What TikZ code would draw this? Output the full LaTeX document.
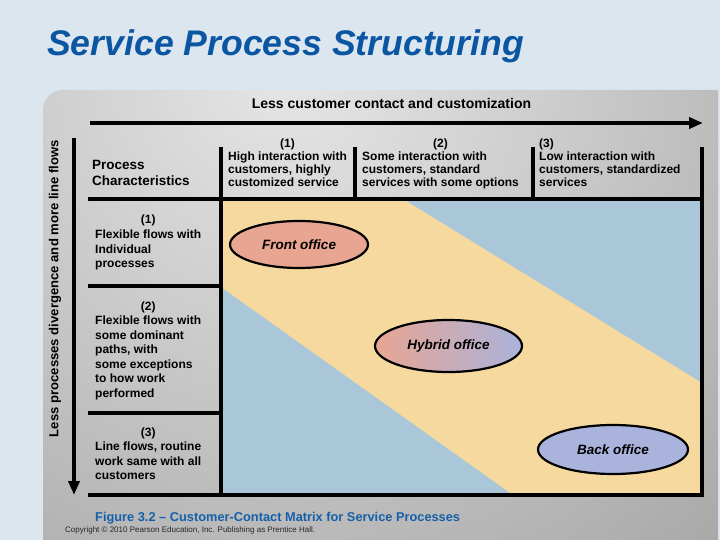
\documentclass[tikz,border=0pt]{standalone}
\usepackage{fontspec}
\setmainfont{Liberation Sans}
\usetikzlibrary{arrows.meta,shapes.geometric}
\definecolor{slidebg}{HTML}{DCE6EF}
\definecolor{pnlA}{HTML}{E6E6E6}
\definecolor{pnlB}{HTML}{7A7A7A}
\definecolor{titleblue}{HTML}{0B56A2}
\definecolor{capblue}{HTML}{1560A8}
\definecolor{tblblue}{HTML}{A9C7D9}
\definecolor{tblyellow}{HTML}{F5D99E}
\definecolor{salmon}{HTML}{E8A592}
\definecolor{lavender}{HTML}{AAB3DC}
\pgfdeclareradialshading{panelshade}{\pgfpoint{0bp}{0bp}}{color(0bp)=(pnlA); color(40bp)=(pnlB); color(50bp)=(pnlB)}
\begin{document}
\begin{tikzpicture}[x=1pt,y=-1pt,
  rule/.style={line width=3.5pt,black},
  axis/.style={line width=4pt,black,-{Triangle[length=14pt,width=11pt]}},
  celltext/.style={inner sep=0pt,anchor=base west,font=\fontsize{12}{13}\selectfont\bfseries},
  rowtext/.style={inner sep=0pt,anchor=base west,font=\fontsize{12}{14.5}\selectfont\bfseries},
  office/.style={ellipse,draw=black,line width=2.2pt,inner sep=0pt,font=\fontsize{13.5}{16}\selectfont\bfseries\itshape}]
\useasboundingbox (0,0) rectangle (720,540);
\fill[slidebg] (0,0) rectangle (720,540);
% panel
\begin{scope}
\clip (43,540) -- (43,300) [rounded corners=20pt] -- (43,90) -- (300,90) [sharp corners] -- (718,90) -- (718,540) -- cycle;
\shade[shading=panelshade] (290,70) circle (700);
\end{scope}
% title
\node[inner sep=0pt,anchor=base west,text=titleblue,font=\fontsize{35.6}{40}\selectfont\bfseries\itshape] (title) at (47,55.5) {Service Process Structuring};
% coloured matrix area
\fill[tblblue] (221,199) rectangle (702,495);
\fill[tblyellow] (221,199) -- (403,199) -- (702,383) -- (702,495) -- (513,495) -- (221,287) -- cycle;
% axes
\coordinate (hs) at (90,123);
\coordinate (he) at (703,123);
\coordinate (vs) at (74,138);
\coordinate (ve) at (74,495);
\draw[axis] (hs) -- (he);
\draw[axis] (vs) -- (ve);
\node[inner sep=0pt,font=\fontsize{14}{16}\selectfont\bfseries] (toplabel) at (391.5,103) {Less customer contact and customization};
\node[inner sep=0pt,rotate=90,font=\fontsize{13.1}{16}\selectfont\bfseries] (sidelabel) at (55,288.5) {Less processes divergence and more line flows};
% table rules
\draw[rule] (88,199) -- (702,199);
\draw[rule] (221,147) -- (221,495);
\draw[rule] (355,147) -- (355,199);
\draw[rule] (533,147) -- (533,199);
\draw[rule] (702,147) -- (702,496.75);
\draw[rule] (88,286) -- (221,286);
\draw[rule] (88,413) -- (221,413);
\draw[rule] (88,495) -- (703.75,495);
% header cells
\node[inner sep=0pt,anchor=base west,font=\fontsize{13.5}{16}\selectfont\bfseries] (pc) at (92,170) {\begin{tabular}[t]{@{}l@{}}Process\\ Characteristics\end{tabular}};
\node[celltext] (c1) at (228,148) {\begin{tabular}[t]{@{}l@{}}\multicolumn{1}{@{}c@{}}{(1)}\\ High interaction with\\ customers, highly\\ customized service\end{tabular}};
\node[celltext] (c2) at (362,148) {\begin{tabular}[t]{@{}l@{}}\multicolumn{1}{@{}c@{}}{(2)}\\ Some interaction with\\ customers, standard\\ services with some options\end{tabular}};
\node[celltext] (c3) at (539,148) {\begin{tabular}[t]{@{}l@{}}(3)\\ Low interaction with\\ customers, standardized\\ services\end{tabular}};
% row cells
\node[rowtext] (r1) at (95,224) {\begin{tabular}[t]{@{}l@{}}\multicolumn{1}{@{}c@{}}{(1)}\\ Flexible flows with\\ Individual\\ processes\end{tabular}};
\node[rowtext] (r2) at (95,310) {\begin{tabular}[t]{@{}l@{}}\multicolumn{1}{@{}c@{}}{(2)}\\ Flexible flows with\\ some dominant\\ paths, with\\ some exceptions\\ to how work\\ performed\end{tabular}};
\node[rowtext] (r3) at (95,436) {\begin{tabular}[t]{@{}l@{}}\multicolumn{1}{@{}c@{}}{(3)}\\ Line flows, routine\\ work same with all\\ customers\end{tabular}};
% offices
\node[office,fill=salmon,minimum width=138pt,minimum height=47pt] (front) at (299,244.5) {Front office};
\node[office,left color=salmon,right color=lavender,minimum width=147pt,minimum height=52pt] (hybrid) at (448.5,346) {Hybrid office};
\node[office,fill=lavender,minimum width=150pt,minimum height=49pt] (back) at (613,449.5) {Back office};
% caption
\node[inner sep=0pt,anchor=base west,text=capblue,font=\fontsize{12.8}{15}\selectfont\bfseries] (caption) at (95,521) {Figure 3.2 – Customer-Contact Matrix for Service Processes};
\node[inner sep=0pt,anchor=base west,text=black!85,font=\fontsize{8}{9}\selectfont] (copy) at (65,532.5) {Copyright © 2010 Pearson Education, Inc. Publishing as Prentice Hall.};
\end{tikzpicture}
\end{document}
